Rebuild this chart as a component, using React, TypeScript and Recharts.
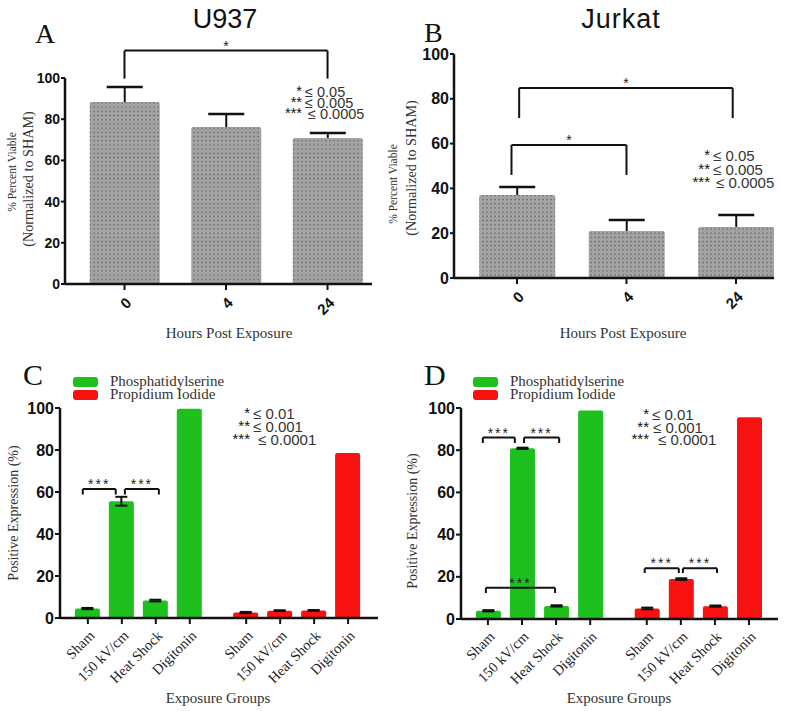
import React from 'react';
import { BarChart, Bar, XAxis, YAxis, ReferenceLine, ErrorBar, Legend } from 'recharts';

// ---- panel A / B : viability ----
const hours = ['0', '4', '24'];
const u937Viable = [88.3, 76.2, 70.9];
const u937Sd = [7.3, 6.3, 2.4];
const jurkatViable = [37.1, 21.0, 22.8];
const jurkatSd = [3.5, 4.9, 5.3];

// ---- panel C / D : expression ----
const groups = ['Sham', '150 kV/cm', 'Heat Shock', 'Digitonin'];
const u937PS = [4.5, 55.6, 8.3, 99.6];
const u937PSErr = [0.3, 2.1, 0.4, 0];
const u937PI = [2.6, 3.5, 3.6, 78.6];
const u937PIErr = [0.3, 0.2, 0.2, 0];
const jurkatPS = [3.9, 80.9, 6.2, 98.8];
const jurkatPSErr = [0.3, 0.3, 0.3, 0];
const jurkatPI = [5.0, 18.9, 6.1, 95.6];
const jurkatPIErr = [0.4, 0.4, 0.3, 0];

const yTicks = [0, 20, 40, 60, 80, 100];

// significance brackets: from/to are bar indices, top/leg in data units
const u937Brackets = [{ from: 0, to: 2, top: 113.3, leg: 99.7, stars: '*' }];
const jurkatBrackets = [
  { from: 0.02, to: 1.97, top: 84.8, leg: 71.4, stars: '*' },
  { from: -0.05, to: 1.0, top: 59.4, leg: 46.0, stars: '*' },
];
const u937ExprBrackets = [
  { from: -0.15, to: 0.82, top: 61.4, leg: 58.8, stars: '***' },
  { from: 1.09, to: 2.09, top: 61.4, leg: 58.8, stars: '***' },
];
const jurkatExprBrackets = [
  { from: -0.15, to: 0.79, top: 86.0, leg: 83.4, stars: '***' },
  { from: 1.06, to: 2.09, top: 86.0, leg: 83.4, stars: '***' },
  { from: -0.06, to: 1.97, top: 14.8, leg: 12.3, stars: '***' },
  { from: 3.94, to: 4.94, top: 24.0, leg: 21.8, stars: '***' },
  { from: 5.06, to: 6.06, top: 24.0, leg: 21.8, stars: '***' },
];

const SANS = '"Liberation Sans", Arial, sans-serif';
const SERIF = '"Liberation Serif", "Times New Roman", serif';
const INK = '#111';
const GREEN = '#1ec01e';
const RED = '#f71111';
const GAP = 0.66;

const barPos = (i: number) => i + (i > 3.5 ? GAP : 0);

const viableRows = (vals: number[], sd: number[]) =>
  vals.map((v, i) => ({ pos: i, v, sd: sd[i] }));

const exprRows = (ps: number[], psErr: number[], pi: number[], piErr: number[]) => [
  ...groups.map((g, i) => ({ pos: barPos(i), label: g, ps: ps[i], psErr: psErr[i], pi: null, piErr: null })),
  ...groups.map((g, i) => ({ pos: barPos(i + 4), label: g, ps: null, psErr: null, pi: pi[i], piErr: piErr[i] })),
];

// bar with one-sided (upper) error whisker, as in Prism
const ViableBar = (props: any) => {
  const { x, y, width, height, payload } = props;
  if (!height) return null;
  const errPx = (payload.sd * height) / payload.v;
  const cx = x + width / 2;
  const top = y - errPx;
  return (
    <g>
      <rect x={x} y={y} width={width} height={height} rx={2} fill="url(#dots)" />
      <line x1={cx} y1={y} x2={cx} y2={top} stroke={INK} strokeWidth={2} />
      <line x1={cx - 18} y1={top} x2={cx + 18} y2={top} stroke={INK} strokeWidth={2.5} />
    </g>
  );
};

const HourTick = ({ x, y, payload }: any) => {
  const ax = x + 4;
  const ay = y + 8;
  return (
    <text x={ax} y={ay} transform={`rotate(-45 ${ax} ${ay})`} textAnchor="end" dominantBaseline="central"
      fontFamily={SANS} fontWeight="bold" fontSize={15} fill={INK}>
      {hours[Math.round(payload.value)]}
    </text>
  );
};

const makeGroupTick = (rows: any[]) => ({ x, y, payload }: any) => {
  const row = rows.find((r) => Math.abs(r.pos - payload.value) < 1e-6);
  const ax = x + 4;
  const ay = y + 7;
  return (
    <text x={ax} y={ay} transform={`rotate(-45 ${ax} ${ay})`} textAnchor="end" dominantBaseline="central"
      fontFamily={SERIF} fontSize={14.5} fill="#222">
      {row ? row.label : ''}
    </text>
  );
};

const bracket = (b: any, key: string, toX: (i: number) => number, starSize: number, spacing: number) => {
  const x1 = toX(b.from);
  const x2 = toX(b.to);
  const common = { ifOverflow: 'visible' as const, stroke: INK, strokeWidth: 2 };
  return [
    <ReferenceLine key={key + 'l'} {...common} segment={[{ x: x1, y: b.leg }, { x: x1, y: b.top }]} />,
    <ReferenceLine key={key + 'r'} {...common} segment={[{ x: x2, y: b.leg }, { x: x2, y: b.top }]} />,
    <ReferenceLine key={key + 't'} {...common} segment={[{ x: x1, y: b.top }, { x: x2, y: b.top }]}
      label={{ value: b.stars, position: 'top', offset: 0, fontSize: starSize, fill: '#222', fontFamily: SANS, letterSpacing: spacing }} />,
  ];
};

const yAxisProps = (fontSize: number, tickSize: number) => ({
  type: 'number' as const,
  domain: [0, 100],
  ticks: yTicks,
  interval: 0,
  width: 45,
  tickSize,
  tickMargin: 1,
  tick: { fontFamily: SANS, fontWeight: 'bold', fontSize, fill: INK },
  tickLine: { stroke: INK, strokeWidth: 2 },
  axisLine: { stroke: INK, strokeWidth: 2.5 },
});

const ViabilityPanel = ({ vals, sd, brackets, left, top, margin, domain, barSize, yFont }: any) => {
  const data = viableRows(vals, sd);
  return (
    <div style={{ position: 'absolute', left, top }}>
      <BarChart width={393} height={345} data={data} margin={margin}>
        <XAxis type="number" dataKey="pos" domain={domain} allowDataOverflow ticks={[0, 1, 2]} interval={0}
          height={40} tickSize={6} tick={<HourTick />}
          tickLine={{ stroke: INK, strokeWidth: 2 }} axisLine={{ stroke: INK, strokeWidth: 2.5 }} />
        <YAxis {...yAxisProps(yFont, 4)} />
        <Bar dataKey="v" barSize={barSize} shape={ViableBar} isAnimationActive={false} />
        {brackets.flatMap((b: any, i: number) => bracket(b, 'b' + i, (k) => k, 14, 0))}
      </BarChart>
    </div>
  );
};

const renderLegend = (props: any) => (
  <div>
    {(props.payload || []).map((p: any) => (
      <div key={p.value} style={{ display: 'flex', alignItems: 'center', height: 13 }}>
        <span style={{ display: 'inline-block', width: 25, height: 10, background: p.color, borderRadius: 3, marginRight: 12 }} />
        <span style={{ fontFamily: SERIF, fontSize: 15, color: '#333', lineHeight: '13px' }}>{p.value}</span>
      </div>
    ))}
  </div>
);

const ExpressionPanel = ({ rows, brackets, left, top, margin, domain, legendLeft }: any) => (
  <div style={{ position: 'absolute', left, top }}>
    <BarChart width={393} height={366} data={rows} margin={margin}>
      <XAxis type="number" dataKey="pos" domain={domain} allowDataOverflow ticks={rows.map((r: any) => r.pos)}
        interval={0} height={80} tickSize={6} tick={makeGroupTick(rows)}
        tickLine={{ stroke: INK, strokeWidth: 2 }} axisLine={{ stroke: INK, strokeWidth: 2.5 }} />
      <YAxis {...yAxisProps(16, 5)} />
      <Legend layout="horizontal" verticalAlign="middle" align="center" content={renderLegend}
        wrapperStyle={{ left: legendLeft, top: 30, width: 220 }} />
      <Bar dataKey="ps" name="Phosphatidylserine" stackId="s" fill={GREEN} barSize={25} radius={[2, 2, 0, 0]} isAnimationActive={false}>
        <ErrorBar dataKey="psErr" width={6} stroke={INK} strokeWidth={2} />
      </Bar>
      <Bar dataKey="pi" name="Propidium Iodide" stackId="s" fill={RED} barSize={25} radius={[2, 2, 0, 0]} isAnimationActive={false}>
        <ErrorBar dataKey="piErr" width={6} stroke={INK} strokeWidth={2} />
      </Bar>
      {brackets.flatMap((b: any, i: number) => bracket(b, 'e' + i, barPos, 14, 2))}
    </BarChart>
  </div>
);

// "* ≤ 0.05" style key: stars right-aligned, thresholds to their right
const StarNote = ({ x, y, levels, gap, size }: any) => (
  <g fontFamily={SANS} fontSize={size}>
    {levels.map((lv: any, i: number) => (
      <text key={i} y={y + i * gap}>
        <tspan x={x} textAnchor="end" fill={INK} dy={-1}>{lv[0]}</tspan>
        <tspan x={x + 3 + lv[2]} fill="#333" dy={1}>{lv[1]}</tspan>
      </text>
    ))}
  </g>
);

const App = () => (
  <div style={{ position: 'absolute', left: 0, top: 0, width: 786, height: 711, background: '#fff', overflow: 'hidden' }}>
    <svg width={0} height={0} style={{ position: 'absolute' }}>
      <defs>
        <pattern id="dots" width={4} height={4.2} patternUnits="userSpaceOnUse">
          <rect width={4} height={4.2} fill="#a3a3a3" />
          <rect x={1.4} y={1.5} width={1.3} height={1.3} fill="#5c5c5c" />
        </pattern>
      </defs>
    </svg>

    <ViabilityPanel vals={u937Viable} sd={u937Sd} brackets={u937Brackets} left={0} top={0}
      margin={{ top: 78, right: 21, bottom: 21, left: 20 }} domain={[-0.586, 2.438]} barSize={70} yFont={14} />
    <ViabilityPanel vals={jurkatViable} sd={jurkatSd} brackets={jurkatBrackets} left={393} top={0}
      margin={{ top: 54, right: 12, bottom: 27, left: 16 }} domain={[-0.575, 2.347]} barSize={76} yFont={16} />
    <ExpressionPanel rows={exprRows(u937PS, u937PSErr, u937PI, u937PIErr)} brackets={u937ExprBrackets} left={0} top={345}
      margin={{ top: 63, right: 15, bottom: 13, left: 15 }} domain={[-0.82, 8.54]} legendLeft={73} />
    <ExpressionPanel rows={exprRows(jurkatPS, jurkatPSErr, jurkatPI, jurkatPIErr)} brackets={jurkatExprBrackets} left={393} top={345}
      margin={{ top: 63, right: 8, bottom: 12, left: 23 }} domain={[-0.79, 8.51]} legendLeft={80} />

    <svg width={786} height={711} style={{ position: 'absolute', left: 0, top: 0, pointerEvents: 'none' }}>
      <g fontFamily={SERIF} fill={INK}>
        <text x={35} y={43} fontSize={28}>A</text>
        <text x={424} y={42} fontSize={28}>B</text>
        <text x={23} y={385} fontSize={30}>C</text>
        <text x={424} y={385} fontSize={30}>D</text>
      </g>
      <g fontFamily={SANS} fontSize={27} fill={INK} textAnchor="middle">
        <text x={225} y={28}>U937</text>
        <text x={621} y={28} letterSpacing={1}>Jurkat</text>
      </g>
      <g fontFamily={SERIF} fill="#333" textAnchor="middle" dominantBaseline="central">
        <text x={12} y={172} fontSize={11.5} transform="rotate(-90 12 172)">% Percent Viable</text>
        <text x={28} y={179} fontSize={14.2} transform="rotate(-90 28 179)">(Normalized to SHAM)</text>
        <text x={393} y={184} fontSize={11.5} transform="rotate(-90 393 184)">% Percent Viable</text>
        <text x={411} y={168} fontSize={14.2} transform="rotate(-90 411 168)">(Normalized to SHAM)</text>
        <text x={13} y={513} fontSize={14} transform="rotate(-90 13 513)">Positive Expression (%)</text>
        <text x={412} y={521} fontSize={14} transform="rotate(-90 412 521)">Positive Expression (%)</text>
        <text x={229} y={333} fontSize={15}>Hours Post Exposure</text>
        <text x={623} y={333} fontSize={15}>Hours Post Exposure</text>
        <text x={218} y={698} fontSize={15}>Exposure Groups</text>
        <text x={619} y={698} fontSize={15}>Exposure Groups</text>
      </g>
      <StarNote x={302} y={97} gap={11} size={14.5} levels={[['*', '≤ 0.05', 0], ['**', '≤ 0.005', 0], ['***', '≤ 0.0005', 3]]} />
      <StarNote x={710} y={161} gap={13.5} size={15} levels={[['*', '≤ 0.05', 0], ['**', '≤ 0.005', 0], ['***', '≤ 0.0005', 3]]} />
      <StarNote x={250} y={419} gap={13} size={15} levels={[['*', '≤ 0.01', 0], ['**', '≤ 0.001', 0], ['***', '≤ 0.0001', 5]]} />
      <StarNote x={649} y={420} gap={12.5} size={15} levels={[['*', '≤ 0.01', 0], ['**', '≤ 0.001', 1], ['***', '≤ 0.0001', 6]]} />
    </svg>
  </div>
);

export default App;
